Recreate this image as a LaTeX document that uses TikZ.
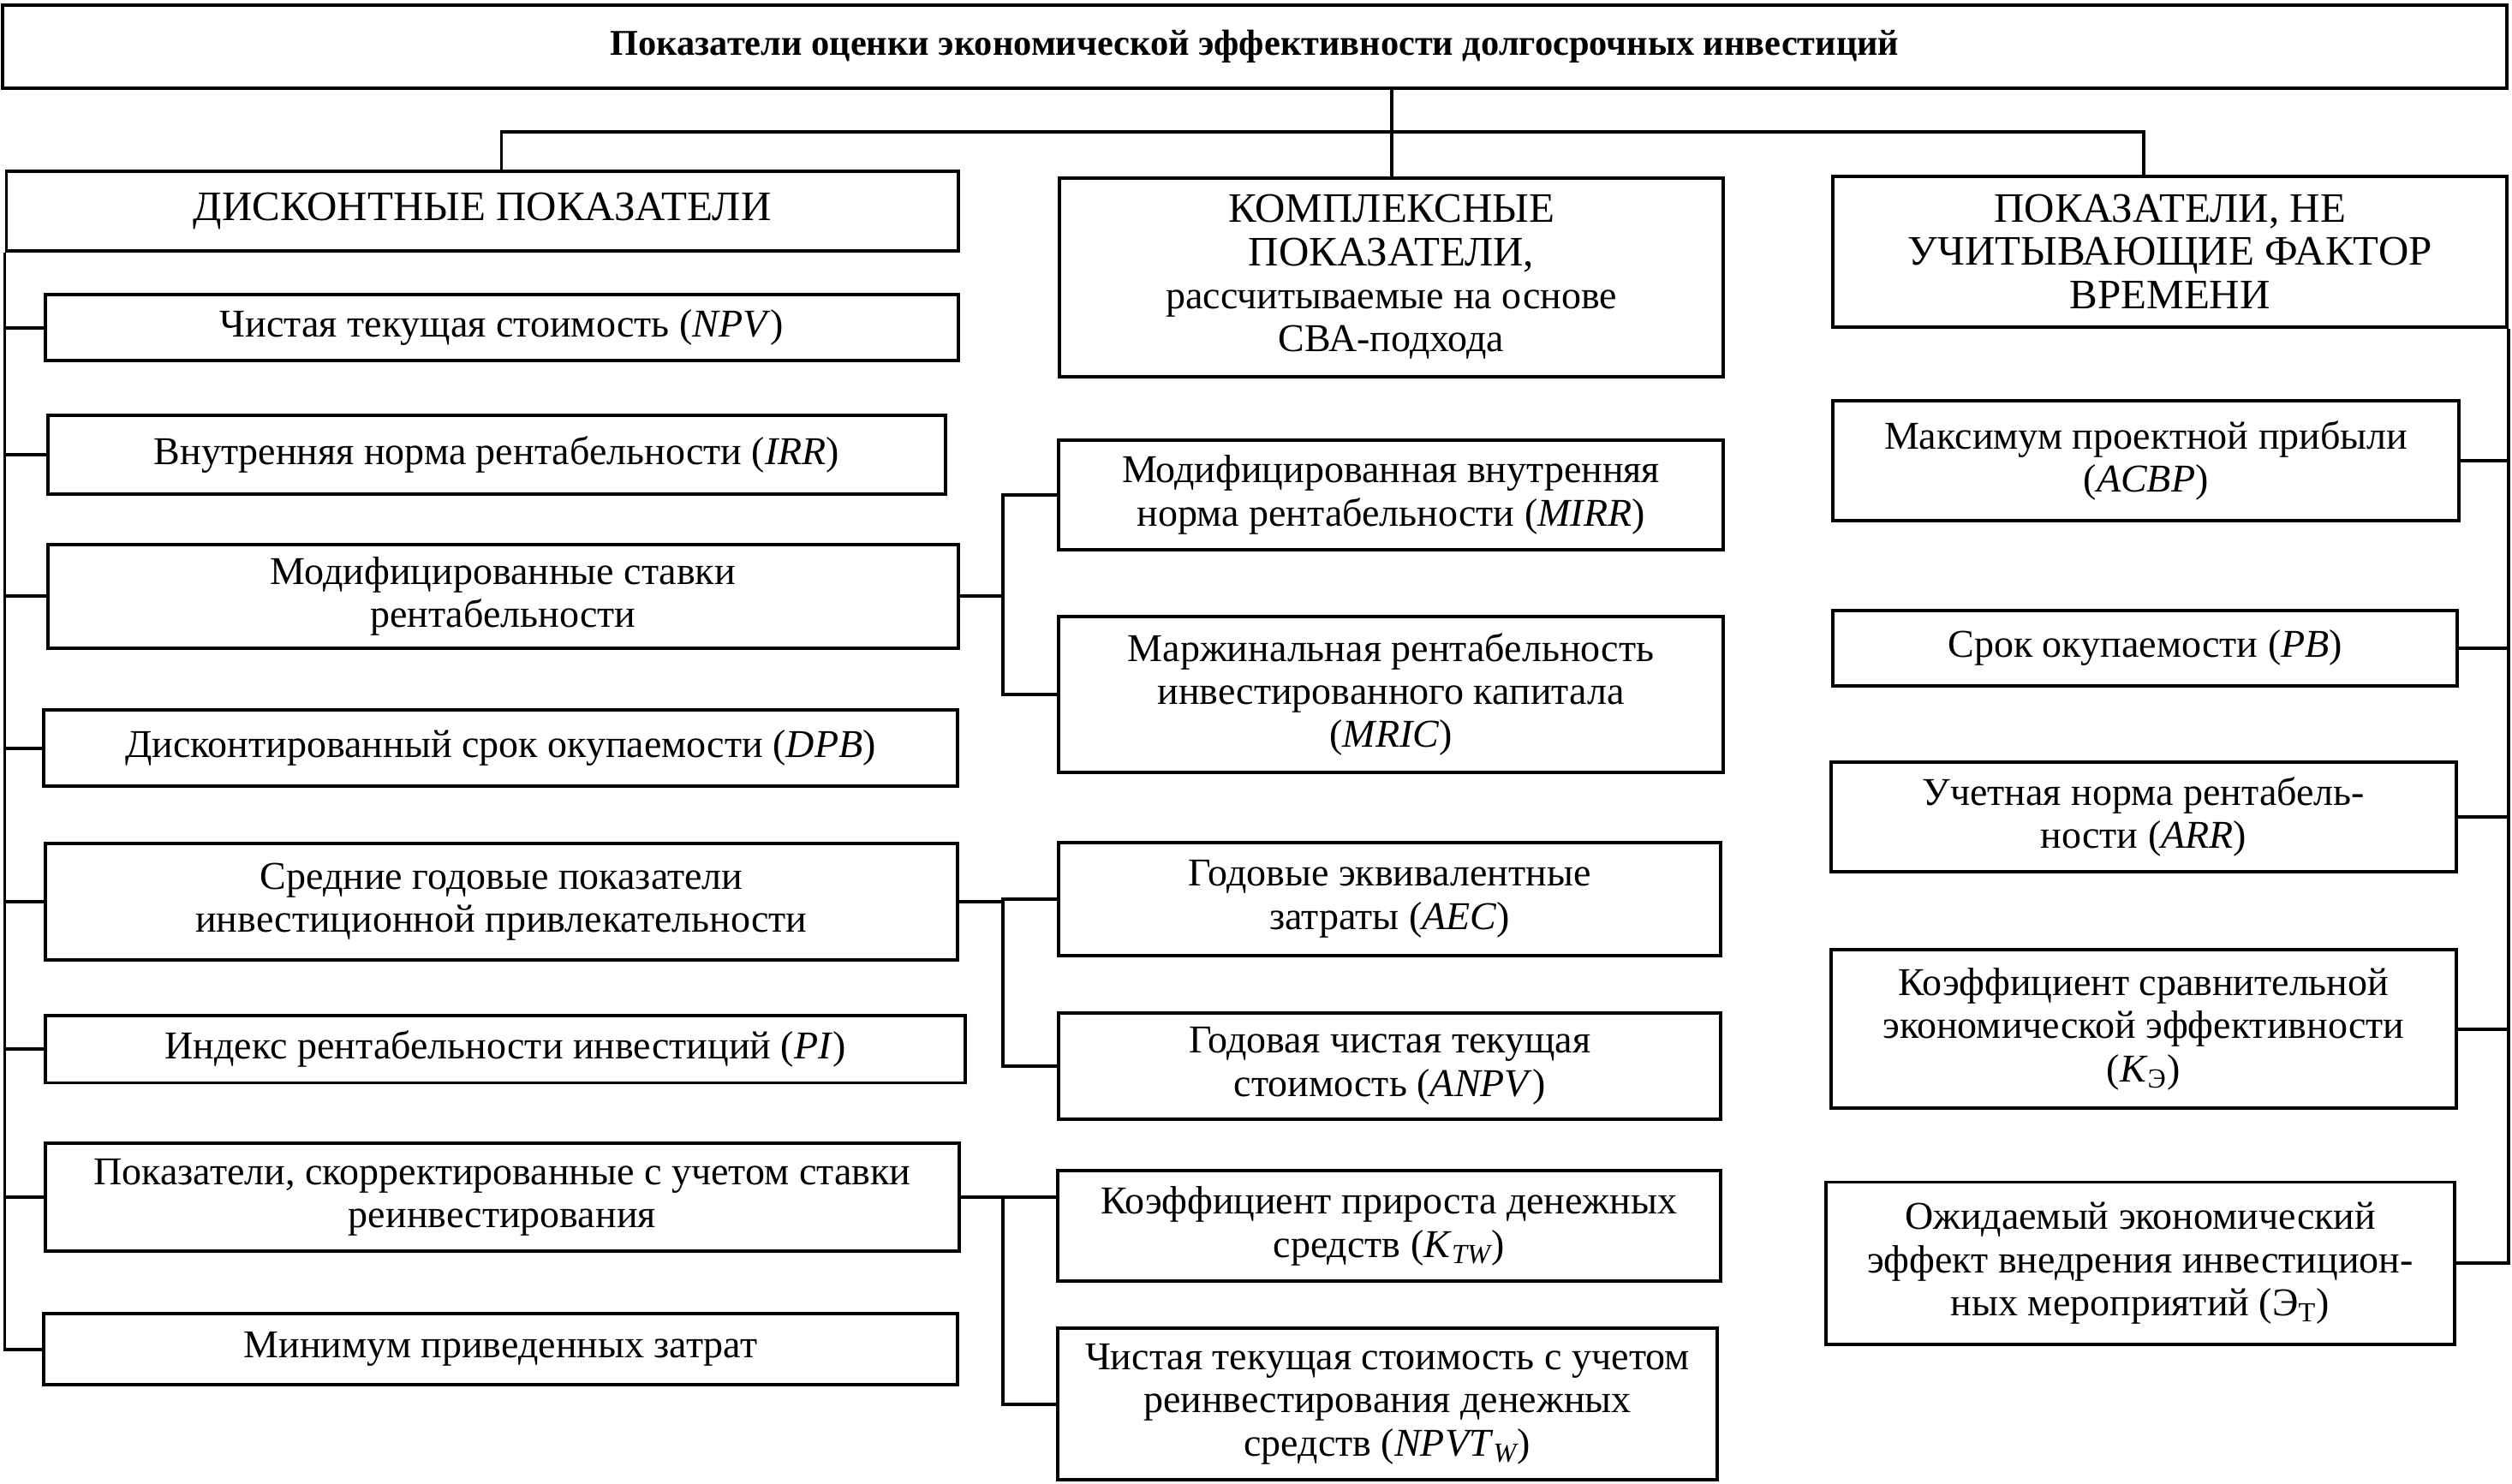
\documentclass[tikz,border=0pt]{standalone}
\usepackage{fontspec}
\setmainfont{Liberation Serif}
\usetikzlibrary{positioning}
\newcommand\capsline[1]{{\fontsize{14.9}{15.3}\selectfont #1}}

\begin{document}
\begin{tikzpicture}[box/.style={draw, line width=1.2pt, align=center, inner sep=0pt, font=\fontsize{14}{15.3}\selectfont}, link/.style={line width=1.2pt}]
\useasboundingbox (0,0) rectangle (31.36,-18.52);
\node[box, font=\bfseries\fontsize{12.9}{15}\selectfont, minimum width=31.27cm, minimum height=1.04cm] (title) at (15.665,-0.58) {Показатели оценки экономической эффективности долгосрочных инвестиций};

\node[box, minimum width=11.88cm, minimum height=0.99cm] (disk) at (6.02,-2.635) {\capsline{ДИСКОНТНЫЕ ПОКАЗАТЕЛИ}};
\node[box, minimum width=11.39cm, minimum height=0.82cm] (npv) at (6.265,-4.09) {Чистая текущая стоимость (\textit{NPV})};
\node[box, minimum width=11.2cm, minimum height=0.99cm] (irr) at (6.2,-5.676) {Внутренняя норма рентабельности (\textit{IRR})};
\node[box, minimum width=11.36cm, minimum height=1.29cm] (mst) at (6.28,-7.445) {Модифицированные ставки\\рентабельности};
\node[box, minimum width=11.4cm, minimum height=0.96cm] (dpb) at (6.25,-9.34) {Дисконтированный срок окупаемости (\textit{DPB})};
\node[box, minimum width=11.38cm, minimum height=1.46cm] (sred) at (6.26,-11.26) {Средние годовые показатели\\инвестиционной привлекательности};
\node[box, minimum width=11.48cm, minimum height=0.84cm] (pi) at (6.31,-13.1) {Индекс рентабельности инвестиций (\textit{PI})};
\node[box, minimum width=11.4cm, minimum height=1.35cm] (skorr) at (6.27,-14.95) {Показатели, скорректированные с учетом ставки\\реинвестирования};
\node[box, minimum width=11.4cm, minimum height=0.89cm] (minz) at (6.25,-16.846) {Минимум приведенных затрат};

\node[box, minimum width=8.28cm, minimum height=2.48cm] (kompl) at (17.37,-3.46) {\capsline{КОМПЛЕКСНЫЕ}\\\capsline{ПОКАЗАТЕЛИ,}\\рассчитываемые на основе\\СВА-подхода};
\node[box, minimum width=8.29cm, minimum height=1.36cm] (mirr) at (17.365,-6.18) {Модифицированная внутренняя\\норма рентабельности (\textit{MIRR})};
\node[box, minimum width=8.29cm, minimum height=1.94cm] (mric) at (17.365,-8.67) {Маржинальная рентабельность\\инвестированного капитала\\(\textit{MRIC})};
\node[box, minimum width=8.26cm, minimum height=1.41cm] (aec) at (17.35,-11.225) {Годовые эквивалентные\\затраты (\textit{AEC})};
\node[box, minimum width=8.26cm, minimum height=1.32cm] (anpv) at (17.35,-13.31) {Годовая чистая текущая\\стоимость (\textit{ANPV})};
\node[box, minimum width=8.28cm, minimum height=1.38cm] (ktw) at (17.34,-15.31) {Коэффициент прироста денежных\\средств (\textit{K}\textsubscript{\itshape TW})};
\node[box, minimum width=8.24cm, minimum height=1.9cm] (npvtw) at (17.32,-17.53) {Чистая текущая стоимость с учетом\\реинвестирования денежных\\средств (\textit{NPVT}\textsubscript{\itshape W})};

\node[box, minimum width=8.42cm, minimum height=1.88cm] (nevr) at (27.09,-3.14) {\capsline{ПОКАЗАТЕЛИ, НЕ}\\\capsline{УЧИТЫВАЮЩИЕ ФАКТОР}\\\capsline{ВРЕМЕНИ}};
\node[box, minimum width=7.82cm, minimum height=1.5cm] (acbp) at (26.79,-5.75) {Максимум проектной прибыли\\(\textit{ACBP})};
\node[box, minimum width=7.8cm, minimum height=0.94cm] (pb) at (26.78,-8.09) {Срок окупаемости (\textit{PB})};
\node[box, minimum width=7.8cm, minimum height=1.36cm] (arr) at (26.76,-10.2) {Учетная норма рентабель-\\ности (\textit{ARR})};
\node[box, minimum width=7.8cm, minimum height=1.98cm] (ke) at (26.76,-12.85) {Коэффициент сравнительной\\экономической эффективности\\(\textit{K}\textsubscript{Э})};
\node[box, minimum width=7.84cm, minimum height=2.03cm] (ozh) at (26.72,-15.775) {Ожидаемый экономический\\эффект внедрения инвестицион-\\ных мероприятий (Э\textsubscript{Т})};

\coordinate (busL) at (6.26,-1.65);
\coordinate (busR) at (26.76,-1.65);
\coordinate (busM) at (12.52,0);
\draw[link] (title.south -| kompl.north) -- (kompl.north);
\draw[link] (busL |- disk.north) -- (busL) -- (busR) -- (busR |- nevr.north);
\draw[link] (disk.south west) -- (disk.south west |- minz.west) -- (minz.west);
\foreach \n in {npv,irr,mst,dpb,sred,pi,skorr}
  \draw[link] (disk.south west |- \n.west) -- (\n.west);
\draw[link] (nevr.south east) -- (nevr.south east |- ozh.east) -- (ozh.east);
\foreach \n in {acbp,pb,arr,ke}
  \draw[link] (nevr.south east |- \n.east) -- (\n.east);
\draw[link] (mst.east) -- (mst.east -| busM);
\draw[link] (mirr.west) -- (mirr.west -| busM) -- (mric.west -| busM) -- (mric.west);
\draw[link] (sred.east) -- (sred.east -| busM);
\draw[link] (aec.west) -- (aec.west -| busM) -- (anpv.west -| busM) -- (anpv.west);
\draw[link] (skorr.east) -- (skorr.east -| ktw.west);
\draw[link] (skorr.east -| busM) -- (npvtw.west -| busM) -- (npvtw.west);
\end{tikzpicture}
\end{document}
